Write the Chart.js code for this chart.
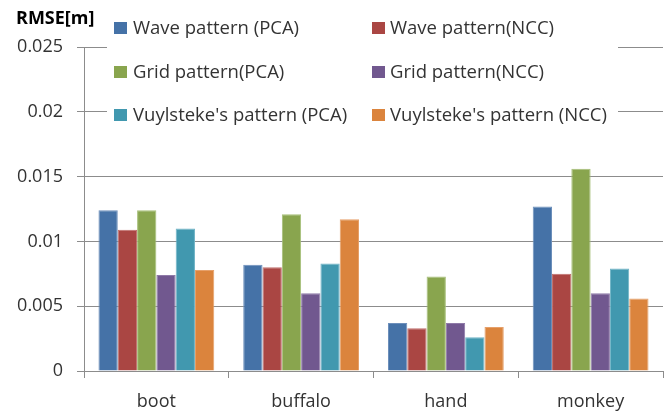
<!DOCTYPE html>
<html>
<head>
<meta charset="utf-8">
<script src="https://cdn.jsdelivr.net/npm/chart.js@4/dist/chart.umd.min.js"></script>
<style>
  html, body { margin: 0; padding: 0; background: #fff; }
  #wrap { width: 669px; height: 411px; position: relative; }
</style>
</head>
<body>
<div id="wrap"><canvas id="c" width="669" height="411"></canvas></div>
<script>
const categories = ['boot', 'buffalo', 'hand', 'monkey'];
const seriesNames = [
  'Wave pattern (PCA)', 'Wave pattern(NCC)',
  'Grid pattern(PCA)', 'Grid pattern(NCC)',
  "Vuylsteke's pattern (PCA)", "Vuylsteke's pattern (NCC)"
];
const wavePCA = [0.0124, 0.0082, 0.0037, 0.0127];
const waveNCC = [0.0109, 0.0080, 0.0033, 0.0075];
const gridPCA = [0.0124, 0.0121, 0.0073, 0.0156];
const gridNCC = [0.0074, 0.0060, 0.0037, 0.0060];
const vuyPCA  = [0.0110, 0.0083, 0.0026, 0.0079];
const vuyNCC  = [0.0078, 0.0117, 0.0034, 0.0056];
const yTickLabels = ['0', '0.005', '0.01', '0.015', '0.02', '0.025'];
const yAxisTitle = 'RMSE[m]';

const colors = ['#4572A7', '#AA4643', '#89A54E', '#71588F', '#4198AF', '#DB843D'];
const edgeColors = ['#6d8fbb', '#c06f6c', '#a6bf78', '#8f7aa8', '#6fb3c6', '#e6a06a'];
const seriesValues = [wavePCA, waveNCC, gridPCA, gridNCC, vuyPCA, vuyNCC];

const FONT = "'Open Sans', sans-serif";
const TXT = '#333333';
const GRID = '#8c8c8c';

const overlayLegend = {
  id: 'overlayLegend',
  afterDraw(chart) {
    const ctx = chart.ctx;
    ctx.save();
    ctx.fillStyle = '#000';
    ctx.font = "bold 18px " + FONT;
    ctx.textAlign = 'left';
    ctx.textBaseline = 'middle';
    ctx.fillText(yAxisTitle, 16, 19);
    ctx.fillStyle = '#fff';
    ctx.fillRect(107, 8, 511, 124);
    const rowsY = [28, 72, 115];
    const colSwatchX = [114, 372];
    const colTextX = [133, 390];
    ctx.font = "18.5px " + FONT;
    chart.data.datasets.forEach((ds, i) => {
      const r = Math.floor(i / 2), c = i % 2;
      const y = rowsY[r];
      ctx.fillStyle = ds.backgroundColor;
      ctx.fillRect(colSwatchX[c], y - 6, 13, 12);
      ctx.fillStyle = TXT;
      ctx.fillText(ds.label, colTextX[c], y + 1);
    });
    ctx.restore();
  }
};

new Chart(document.getElementById('c'), {
  type: 'bar',
  data: {
    labels: categories,
    datasets: seriesNames.map((name, i) => ({
      label: name,
      data: seriesValues[i],
      backgroundColor: colors[i],
      borderColor: edgeColors[i],
      borderWidth: { top: 1, left: 1, right: 1, bottom: 0 },
      categoryPercentage: 0.8,
      barPercentage: 1.0
    }))
  },
  options: {
    responsive: false,
    animation: false,
    devicePixelRatio: 1,
    layout: { padding: { left: 0, right: 6, top: 47, bottom: 0 } },
    plugins: { legend: { display: false }, tooltip: { enabled: false } },
    scales: {
      x: {
        grid: { display: true, drawOnChartArea: false, color: GRID, tickLength: 7, offset: true },
        border: { color: GRID },
        ticks: { color: TXT, font: { family: FONT, size: 18 }, padding: 13 },
        afterFit(scale) { scale.height = 40; }
      },
      y: {
        min: 0, max: 0.025,
        grid: { color: GRID, tickLength: 7 },
        border: { color: GRID },
        ticks: {
          stepSize: 0.005,
          color: TXT,
          font: { family: FONT, size: 18 },
          padding: 14,
          callback: (v) => yTickLabels[Math.round(v / 0.005)]
        },
        afterFit(scale) { scale.width = 84; }
      }
    }
  },
  plugins: [overlayLegend]
});
</script>
</body>
</html>
